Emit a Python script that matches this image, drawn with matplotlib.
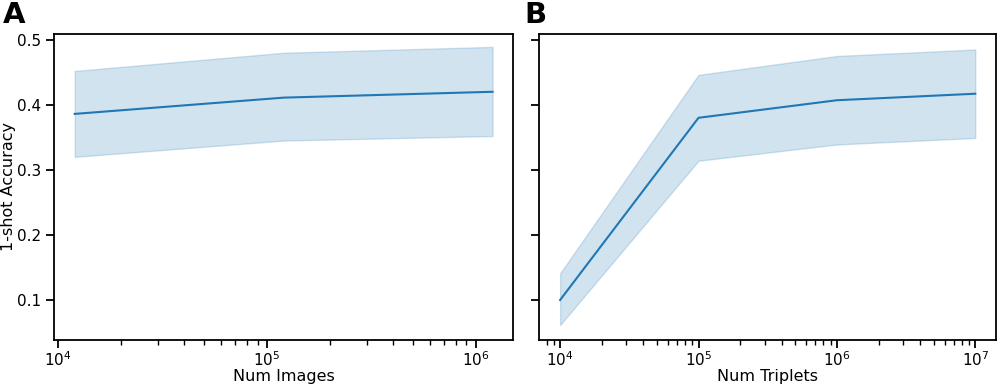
import matplotlib
matplotlib.use("Agg")
import matplotlib.pyplot as plt

# panel A: accuracy vs number of images
num_images = [1.2e4, 1.2e5, 1.2e6]
acc_images = [0.386, 0.411, 0.420]
acc_images_lo = [0.320, 0.345, 0.352]
acc_images_hi = [0.452, 0.480, 0.489]

# panel B: accuracy vs number of triplets
num_triplets = [1e4, 1e5, 1e6, 1e7]
acc_triplets = [0.100, 0.380, 0.407, 0.417]
acc_triplets_lo = [0.0615, 0.314, 0.339, 0.349]
acc_triplets_hi = [0.141, 0.446, 0.475, 0.485]

plt.rcParams["font.size"] = 11

fig = plt.figure(figsize=(9.97, 3.85), dpi=100)
axA = fig.add_axes([0.054, 0.117, 0.461, 0.795])
axB = fig.add_axes([0.541, 0.117, 0.458, 0.795], sharey=axA)

def draw(ax, x, y, lo, hi, xlabel):
    ax.fill_between(x, lo, hi, color="C0", alpha=0.2, linewidth=1)
    ax.plot(x, y, color="C0", linewidth=1.5)
    ax.set_xscale("log")
    ax.set_xlabel(xlabel, fontsize=11.5, labelpad=0)
    for s in ax.spines.values():
        s.set_linewidth(1.3)
    ax.tick_params(which="major", length=6, width=1.3, labelsize=11, pad=1.5)
    ax.tick_params(which="minor", length=3.5, width=1.0)

draw(axA, num_images, acc_images, acc_images_lo, acc_images_hi, "Num Images")
draw(axB, num_triplets, acc_triplets, acc_triplets_lo, acc_triplets_hi, "Num Triplets")

axA.set_ylim(0.0385, 0.509)
axA.set_yticks([0.1, 0.2, 0.3, 0.4, 0.5])
axA.tick_params(axis="y", pad=3)
axA.set_ylabel("1-shot Accuracy", fontsize=11.5, labelpad=1)
axB.tick_params(axis="y", labelleft=False)

fig.text(0.003, 0.962, "A", fontsize=21, fontweight="bold", va="center")
fig.text(0.526, 0.962, "B", fontsize=21, fontweight="bold", va="center")

fig.savefig("out.png", dpi=100)
